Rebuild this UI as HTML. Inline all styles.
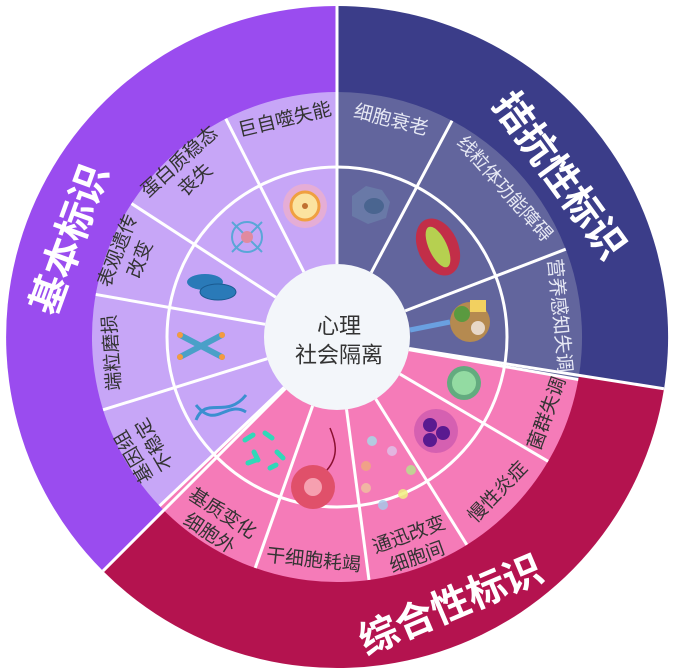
<!DOCTYPE html>
<html><head><meta charset="utf-8"><style>
html,body{margin:0;padding:0;background:#fff;}
svg{display:block;}
text{font-family:"Liberation Sans","Noto Sans CJK SC",sans-serif;}
</style></head><body>
<svg width="675" height="672" viewBox="0 0 675 672" xmlns="http://www.w3.org/2000/svg">
<path d="M337,337 L337,6 A331,331 0 0 1 664,389 Z" fill="#3b3d89"/>
<path d="M337,337 L664,389 A331,331 0 0 1 103,571 Z" fill="#b4134f"/>
<path d="M337,337 L103,571 A331,331 0 0 1 337,6 Z" fill="#9a4cef"/>
<path d="M337,337 L337,92 A245,245 0 0 1 578.3,379.6 Z" fill="#62659d"/>
<path d="M337,337 L578.3,379.6 A245,245 0 0 1 159.6,506 Z" fill="#f57bb8"/>
<path d="M337,337 L159.6,506 A245,245 0 0 1 337,92 Z" fill="#c7a6f7"/>
<circle cx="337" cy="337" r="170" fill="none" stroke="#fff" stroke-width="3"/>
<g stroke="#fff" stroke-width="3">
<line x1="337" y1="0" x2="337" y2="264"/>
<line x1="337" y1="6" x2="337" y2="264" transform="rotate(99 337 337)"/>
<line x1="337" y1="6" x2="337" y2="264" transform="rotate(225 337 337)"/>
<line x1="337" y1="92" x2="337" y2="264" transform="rotate(28 337 337)"/>
<line x1="337" y1="92" x2="337" y2="264" transform="rotate(69 337 337)"/>
<line x1="337" y1="92" x2="337" y2="264" transform="rotate(100 337 337)"/>
<line x1="337" y1="92" x2="337" y2="264" transform="rotate(120.5 337 337)"/>
<line x1="337" y1="92" x2="337" y2="264" transform="rotate(148 337 337)"/>
<line x1="337" y1="92" x2="337" y2="264" transform="rotate(172.5 337 337)"/>
<line x1="337" y1="92" x2="337" y2="264" transform="rotate(199.5 337 337)"/>
<line x1="337" y1="92" x2="337" y2="264" transform="rotate(226.4 337 337)"/>
<line x1="337" y1="92" x2="337" y2="264" transform="rotate(252.7 337 337)"/>
<line x1="337" y1="92" x2="337" y2="264" transform="rotate(280 337 337)"/>
<line x1="337" y1="92" x2="337" y2="264" transform="rotate(303 337 337)"/>
<line x1="337" y1="92" x2="337" y2="264" transform="rotate(333 337 337)"/>
</g>
<circle cx="305" cy="206" r="22" fill="#f2b0c8" opacity="0.7"/>
<circle cx="305" cy="206" r="14" fill="#fbe3a0" stroke="#f0a040" stroke-width="3"/>
<circle cx="305" cy="206" r="3" fill="#c07030"/>
<g stroke="#5aa6d8" stroke-width="2" fill="none"><circle cx="247" cy="237" r="15"/><path d="M232,222 l30,30 M262,222 l-30,30"/></g>
<circle cx="247" cy="237" r="6" fill="#e08aa0"/>
<ellipse cx="205" cy="282" rx="18" ry="8" fill="#2a7ab8"/>
<ellipse cx="218" cy="292" rx="18" ry="8" fill="#2a7ab8" stroke="#1a5a90" stroke-width="1"/>
<g stroke="#4aa0c8" stroke-width="6" stroke-linecap="round"><line x1="180" y1="335" x2="222" y2="357"/><line x1="180" y1="357" x2="222" y2="335"/></g>
<g fill="#f59a40"><circle cx="180" cy="335" r="3"/><circle cx="222" cy="357" r="3"/><circle cx="180" cy="357" r="3"/><circle cx="222" cy="335" r="3"/></g>
<path d="M196,420 C206,395 226,420 246,395 M196,405 C216,430 226,400 246,412" stroke="#3b8fd0" stroke-width="3" fill="none"/>
<path d="M352,196 l14,-10 l16,4 l8,12 l-4,16 l-18,6 l-16,-8 z" fill="#6b7eaa" opacity="0.8"/>
<ellipse cx="374" cy="206" rx="10" ry="8" fill="#4a6590"/>
<ellipse cx="438" cy="247" rx="20" ry="30" transform="rotate(-25 438 247)" fill="#c22e48"/>
<ellipse cx="438" cy="247" rx="9" ry="22" transform="rotate(-25 438 247)" fill="#b6d050"/>
<path d="M410,330 l40,-8" stroke="#6aa0e0" stroke-width="5"/>
<circle cx="470" cy="322" r="20" fill="#b58a50"/>
<circle cx="462" cy="314" r="8" fill="#5a9a40"/><circle cx="478" cy="328" r="7" fill="#e8d8c8"/><rect x="470" y="300" width="16" height="12" fill="#f2d060"/>
<circle cx="464" cy="383" r="17" fill="#3fb870" opacity="0.8"/><circle cx="464" cy="383" r="12" fill="#a8f0b0" opacity="0.7"/>
<circle cx="436" cy="431" r="22" fill="#b040a8" opacity="0.45"/>
<circle cx="430" cy="425" r="7" fill="#5a1a90"/><circle cx="443" cy="433" r="7" fill="#5a1a90"/><circle cx="430" cy="440" r="7" fill="#5a1a90"/>
<g opacity="0.85"><circle cx="372" cy="441" r="5" fill="#a8d8e8"/><circle cx="392" cy="451" r="5" fill="#e0c0e8"/><circle cx="366" cy="466" r="5" fill="#f0a880"/><circle cx="411" cy="470" r="5" fill="#b8e090"/><circle cx="366" cy="488" r="5" fill="#f0c0a0"/><circle cx="403" cy="494" r="5" fill="#f0f080"/><circle cx="383" cy="505" r="5" fill="#a8c8e8"/></g>
<circle cx="313" cy="487" r="22" fill="#e0506a"/><circle cx="313" cy="487" r="9" fill="#f6a0b0"/>
<path d="M327,470 C340,455 335,440 330,428" stroke="#8a1030" stroke-width="1.5" fill="none"/>
<g stroke="#30d8b8" stroke-width="5" stroke-linecap="round"><line x1="245" y1="440" x2="253" y2="435"/><line x1="265" y1="433" x2="272" y2="438"/><line x1="254" y1="452" x2="258" y2="460"/><line x1="277" y1="452" x2="283" y2="458"/><line x1="248" y1="463" x2="256" y2="460"/><line x1="270" y1="468" x2="276" y2="465"/></g>
<circle cx="337" cy="337" r="73" fill="#f3f6fa"/>
<text x="339" y="326" font-size="22" fill="#333" text-anchor="middle" dominant-baseline="central">心理</text>
<text x="339" y="355" font-size="22" fill="#333" text-anchor="middle" dominant-baseline="central">社会隔离</text>
<g font-size="19" fill="#333" text-anchor="middle" dominant-baseline="central">
<text transform="rotate(346.5 337 337) translate(337 114)">巨自噬失能</text>
<text transform="rotate(318 337 337) translate(337 102)">蛋白质稳态</text>
<text transform="rotate(318 337 337) translate(337 126)">丧失</text>
<text transform="rotate(291.5 337 337) translate(337 102)">表观遗传</text>
<text transform="rotate(291.5 337 337) translate(337 126)">改变</text>
<text transform="rotate(266 337 337) translate(337 112)">端粒磨损</text>
<text transform="rotate(239.5 337 337) translate(337 102)">基因组</text>
<text transform="rotate(239.5 337 337) translate(337 126)">不稳定</text>
<text transform="rotate(-70 337 337) translate(337 561)">菌群失调</text>
<text transform="rotate(-46 337 337) translate(337 561)">慢性炎症</text>
<text transform="rotate(-20 337 337) translate(337 548)">通迅改变</text>
<text transform="rotate(-20 337 337) translate(337 572)">细胞间</text>
<text transform="rotate(6 337 337) translate(337 562)">干细胞耗竭</text>
<text transform="rotate(33 337 337) translate(337 548)">基质变化</text>
<text transform="rotate(33 337 337) translate(337 572)">细胞外</text>
</g>
<g font-size="19" fill="#e6e8f4" text-anchor="middle" dominant-baseline="central">
<text transform="rotate(14 337 337) translate(337 114)">细胞衰老</text>
<text transform="rotate(48.5 337 337) translate(337 114)">线粒体功能障碍</text>
<text transform="rotate(84.5 337 337) translate(337 114)">营养感知失调</text>
</g>
<g font-size="39" font-weight="bold" fill="#fff" text-anchor="middle" dominant-baseline="central">
<text transform="rotate(-70 337 337) translate(337 53)">基本标识</text>
<text transform="rotate(54 337 337) translate(337 63)">拮抗性标识</text>
<text transform="rotate(-23 337 337) translate(337 629)">综合性标识</text>
</g>
</svg>
</body></html>
